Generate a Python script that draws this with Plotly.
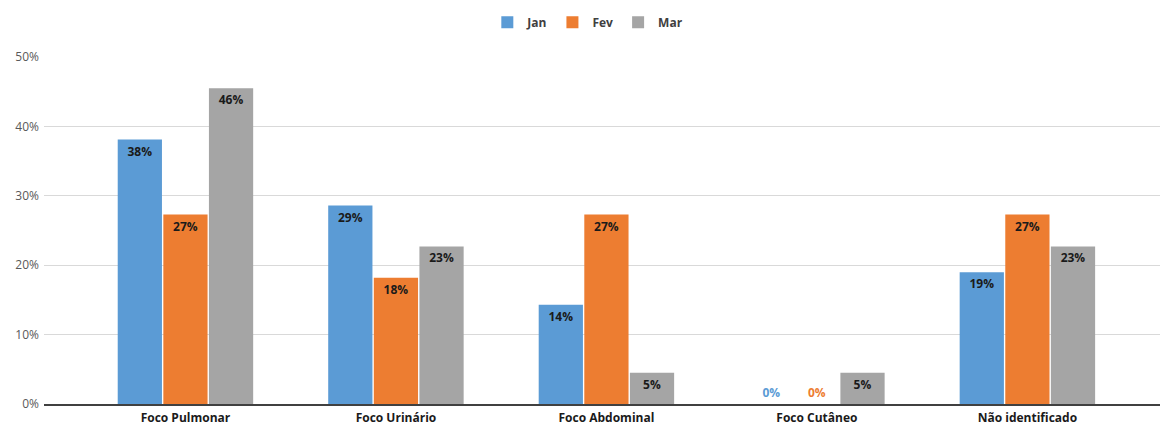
import plotly.graph_objects as go

categories = ["Foco Pulmonar", "Foco Urinário", "Foco Abdominal", "Foco Cutâneo", "Não identificado"]
jan = [38.1, 28.6, 14.3, 0.0, 19.0]
fev = [27.3, 18.2, 27.3, 0.0, 27.3]
mar = [45.5, 22.7, 4.5, 4.5, 22.7]
series = [("Jan", jan, "#5B9BD5"), ("Fev", fev, "#ED7D31"), ("Mar", mar, "#A5A5A5")]
y_ticks = [0, 10, 20, 30, 40, 50]

FONT = "Open Sans"
fig = go.Figure()
for name, vals, col in series:
    pos = ["outside" if v == 0 else "inside" for v in vals]
    tcol = [col if v == 0 else "#1a1a1a" for v in vals]
    fig.add_trace(go.Bar(
        name=f"<b>{name}</b>", x=list(range(len(categories))), y=vals,
        marker=dict(color=col, line=dict(width=0)),
        texttemplate="<b>%{y:.0f}%</b>", textposition=pos,
        insidetextanchor="end", textangle=0, constraintext="none",
        textfont=dict(color=tcol, size=12, family=FONT),
        cliponaxis=False,
    ))

fig.update_layout(
    width=1164, height=427,
    margin=dict(l=44, r=4, t=57, b=23, autoexpand=False),
    plot_bgcolor="white", paper_bgcolor="white",
    barmode="group", bargap=0.35, bargroupgap=0.03,
    font=dict(family=FONT, color="#595959", size=12),
    legend=dict(orientation="h", x=0.505, xanchor="center", xref="container",
                y=0.982, yanchor="top", yref="container",
                font=dict(size=12, color="#404040", family=FONT),
                itemsizing="constant"),
    showlegend=True,
)
fig.update_xaxes(
    tickmode="array", tickvals=list(range(len(categories))),
    ticktext=[f"<b>{c}</b>" for c in categories],
    range=[-0.672, 4.63], showline=True, linecolor="#404040", linewidth=2,
    showgrid=False, ticks="", ticklabelstandoff=2,
    tickfont=dict(color="#1a1a1a", size=12, family=FONT),
)
fig.update_yaxes(
    range=[0, 50], tickvals=y_ticks, ticktext=[f"{v}%" for v in y_ticks],
    showgrid=True, gridcolor="#d9d9d9", gridwidth=1, zeroline=False,
    showline=False, ticks="", ticklabelstandoff=4,
    tickfont=dict(color="#595959", size=12, family=FONT),
)
fig.write_html("out.html", config={"displayModeBar": False},
               post_script="document.body.style.margin='0';document.body.style.overflow='hidden';")
